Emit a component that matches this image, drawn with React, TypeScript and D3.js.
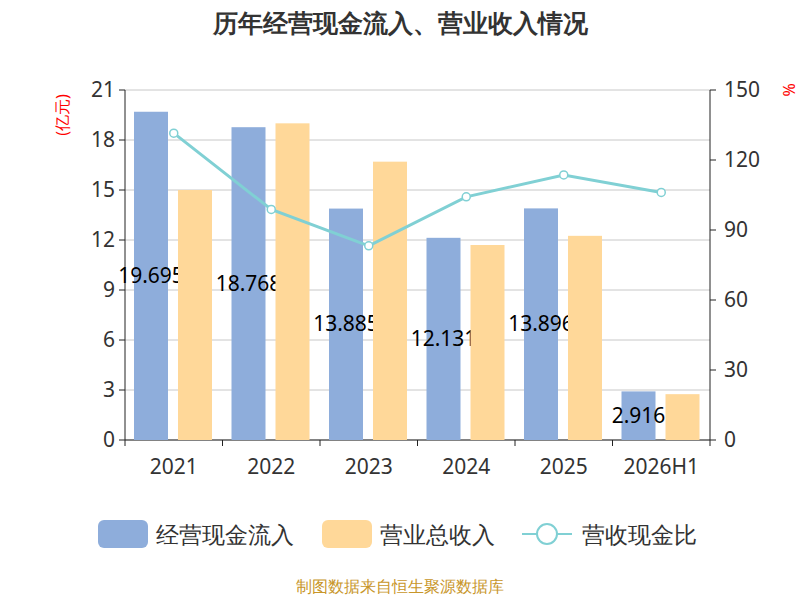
import { useEffect, useRef } from 'react'
import * as d3 from 'd3'

const years = ['2021', '2022', '2023', '2024', '2025', '2026H1']
const cashIn = [19.695, 18.768, 13.885, 12.131, 13.896, 2.916]
const revenue = [15.0, 19.0, 16.7, 11.7, 12.25, 2.75]
const ratio = [131.5, 98.8, 83.2, 104.2, 113.6, 106.1]
const leftTicks = [0, 3, 6, 9, 12, 15, 18, 21]
const rightTicks = [0, 30, 60, 90, 120, 150]

export default function App() {
  const ref = useRef<SVGSVGElement>(null)

  useEffect(() => {
    const svg = d3.select(ref.current)
    svg.selectAll('*').remove()
    const font = '"Noto Sans", sans-serif'
    const L = 125, R = 710, T = 90, B = 440
    const x = d3.scaleBand().domain(years).range([L, R])
    const y = d3.scaleLinear().domain([0, 21]).range([B, T])
    const y2 = d3.scaleLinear().domain([0, 150]).range([B, T])
    const bw = x.bandwidth()

    svg.append('text').attr('x', 400).attr('y', 32).attr('text-anchor', 'middle')
      .attr('font-size', 25).attr('font-weight', 'bold').attr('fill', '#333').attr('font-family', font)
      .text('历年经营现金流入、营业收入情况')

    svg.append('g').selectAll('line').data(leftTicks).join('line')
      .attr('x1', L).attr('x2', R).attr('y1', d => y(d)).attr('y2', d => y(d))
      .attr('stroke', '#c8c8c8')

    const ga = svg.append('g').attr('font-family', font)
    ga.append('line').attr('x1', L).attr('x2', L).attr('y1', T).attr('y2', B).attr('stroke', '#222')
    ga.selectAll('.lt').data(leftTicks).join('line').attr('x1', L - 6).attr('x2', L)
      .attr('y1', d => y(d)).attr('y2', d => y(d)).attr('stroke', '#222')
    ga.selectAll('.ll').data(leftTicks).join('text').attr('x', L - 10).attr('y', d => y(d) + 7)
      .attr('text-anchor', 'end').attr('font-size', 21).attr('fill', '#333').text(d => d)
    ga.append('line').attr('x1', R).attr('x2', R).attr('y1', T).attr('y2', B).attr('stroke', '#222')
    ga.selectAll('.rt').data(rightTicks).join('line').attr('x1', R).attr('x2', R + 6)
      .attr('y1', d => y2(d)).attr('y2', d => y2(d)).attr('stroke', '#222')
    ga.selectAll('.rl').data(rightTicks).join('text').attr('x', R + 14).attr('y', d => y2(d) + 7)
      .attr('font-size', 21).attr('fill', '#333').text(d => d)
    ga.append('line').attr('x1', L).attr('x2', R).attr('y1', B).attr('y2', B).attr('stroke', '#222')
    const edges = years.map(d => x(d)!).concat([R])
    ga.selectAll('.xt').data(edges).join('line').attr('x1', d => d).attr('x2', d => d)
      .attr('y1', B).attr('y2', B + 6).attr('stroke', '#222')
    ga.selectAll('.xl').data(years).join('text').attr('x', d => x(d)! + bw / 2).attr('y', B + 34)
      .attr('text-anchor', 'middle').attr('font-size', 21).attr('fill', '#333').text(d => d)

    svg.append('text').attr('transform', 'translate(68,115) rotate(-90)').attr('text-anchor', 'middle')
      .attr('font-size', 16).attr('fill', 'red').attr('font-family', font).text('(亿元)')
    svg.append('text').attr('transform', 'translate(783,90) rotate(90)').attr('text-anchor', 'middle')
      .attr('font-size', 16).attr('fill', 'red').attr('font-family', font).text('%')

    const barW = 34
    const g = svg.append('g')
    g.selectAll('.cash').data(cashIn).join('rect')
      .attr('x', (_, i) => x(years[i])! + 9).attr('width', barW)
      .attr('y', d => y(d)).attr('height', d => B - y(d)).attr('fill', '#8eaddb')
    g.selectAll('.lab').data(cashIn).join('text')
      .attr('x', (_, i) => x(years[i])! + 9 + barW / 2).attr('y', d => (y(d) + B) / 2 + 7)
      .attr('text-anchor', 'middle').attr('font-size', 21).attr('fill', '#000').attr('font-family', font)
      .text(d => d.toFixed(3))
    g.selectAll('.rev').data(revenue).join('rect')
      .attr('x', (_, i) => x(years[i])! + 53).attr('width', barW)
      .attr('y', d => y(d)).attr('height', d => B - y(d)).attr('fill', '#ffd899')

    const line = d3.line<number>().x((_, i) => x(years[i])! + bw / 2).y(d => y2(d))
    g.append('path').attr('d', line(ratio)).attr('fill', 'none').attr('stroke', '#80d0d4').attr('stroke-width', 3)
    g.selectAll('circle').data(ratio).join('circle')
      .attr('cx', (_, i) => x(years[i])! + bw / 2).attr('cy', d => y2(d)).attr('r', 4)
      .attr('fill', '#fff').attr('stroke', '#80d0d4').attr('stroke-width', 1.5)

    const lg = svg.append('g').attr('font-family', font).attr('font-size', 23).attr('fill', '#333')
    lg.append('rect').attr('x', 98).attr('y', 520).attr('width', 50).attr('height', 28).attr('rx', 6).attr('fill', '#8eaddb')
    lg.append('text').attr('x', 156).attr('y', 543).text('经营现金流入')
    lg.append('rect').attr('x', 322).attr('y', 520).attr('width', 50).attr('height', 28).attr('rx', 6).attr('fill', '#ffd899')
    lg.append('text').attr('x', 380).attr('y', 543).text('营业总收入')
    lg.append('line').attr('x1', 522).attr('x2', 572).attr('y1', 534).attr('y2', 534).attr('stroke', '#80d0d4').attr('stroke-width', 2)
    lg.append('circle').attr('cx', 547).attr('cy', 534).attr('r', 10).attr('fill', '#fff').attr('stroke', '#80d0d4').attr('stroke-width', 2)
    lg.append('text').attr('x', 582).attr('y', 543).text('营收现金比')

    svg.append('text').attr('x', 400).attr('y', 592).attr('text-anchor', 'middle').attr('font-size', 16)
      .attr('fill', '#c8962a').attr('font-family', font).text('制图数据来自恒生聚源数据库')
  }, [])

  return <svg ref={ref} width={800} height={600} style={{ position: 'absolute', left: 0, top: 0 }} />
}
